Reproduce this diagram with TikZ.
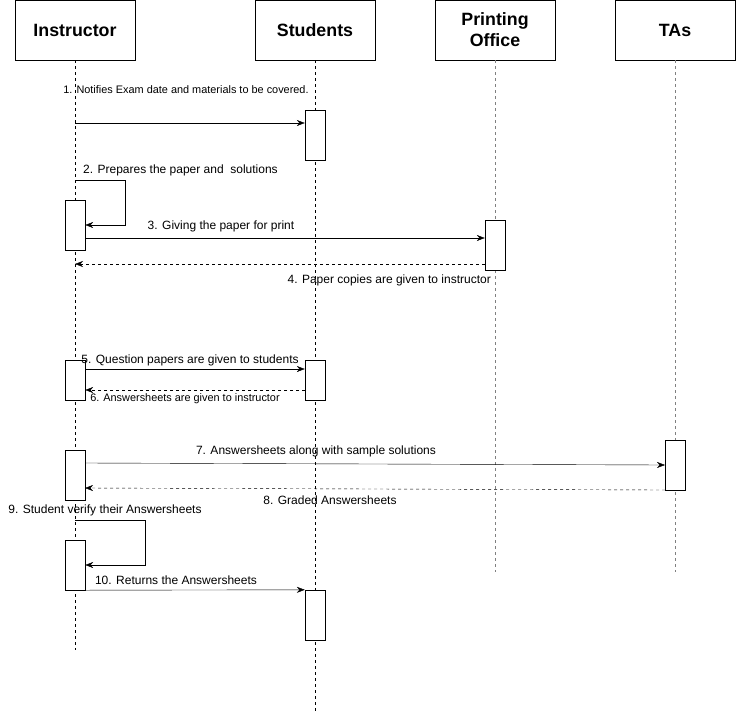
\documentclass[tikz,border=0pt]{standalone}
\usepackage{fontspec}
\setmainfont{Liberation Sans}
\usepackage{tikz}
\usetikzlibrary{arrows.meta,positioning,calc}

\begin{document}
\begin{tikzpicture}[x=1pt, y=-1pt,
    actor/.style={rectangle, draw, minimum width=120pt, minimum height=60pt, align=center, inner sep=0pt, font=\fontsize{17.8}{21}\selectfont\bfseries},
    act/.style={rectangle, draw, fill=white, minimum width=20pt, inner sep=0pt},
    life/.style={dash pattern=on 3pt off 3pt, thin},
    lifegray/.style={dash pattern=on 3pt off 3pt, draw=black!50, line width=0.9pt},
    msg/.style={-{Stealth[length=8pt, width=6pt]}},
    reply/.style={msg, dash pattern=on 3pt off 3pt},
    lbl/.style={font=\fontsize{12}{14}\selectfont, inner sep=1pt},
    slbl/.style={font=\fontsize{10.9}{13}\selectfont, inner sep=1pt}
]
    \useasboundingbox (0,0) rectangle (736,712);

    % Participants
    \node[actor] (instr) at (75,30) {Instructor};
    \node[actor] (stud) at (315,30) {Students};
    \node[actor] (print) at (495,30) {Printing\\Office};
    \node[actor] (tas) at (675,30) {TAs};

    % Lifelines
    \coordinate (instr-end) at (75,650);
    \coordinate (stud-end) at (315,712);
    \coordinate (print-end) at (495,572);
    \coordinate (tas-end) at (675,572);
    \draw[life] (instr) -- (instr-end);
    \draw[life] (stud) -- (stud-end);
    \draw[lifegray] (print) -- (print-end);
    \draw[lifegray] (tas) -- (tas-end);

    % Activations
    \node[act, minimum height=50pt] (s1) at (315,135) {};
    \node[act, minimum height=50pt] (i2) at (75,225) {};
    \node[act, minimum height=50pt] (p3) at (495,245) {};
    \node[act, minimum height=40pt] (i5) at (75,380) {};
    \node[act, minimum height=40pt] (s5) at (315,380) {};
    \node[act, minimum height=50pt] (i7) at (75,475) {};
    \node[act, minimum height=50pt] (t7) at (675,465) {};
    \node[act, minimum height=50pt] (i9) at (75,565) {};
    \node[act, minimum height=50pt] (s10) at (315,615) {};

    % Messages
    \coordinate (m1) at (75,123);
    \draw[msg] (m1) -- (s1.west |- m1);
    \node[slbl] (t1) at (186,90) {1. Notifies Exam date and materials to be covered.};

    \coordinate (m2) at (75,180);
    \draw[msg] (m2) -- ++(50,0) |- (i2.east);
    \node[lbl, anchor=west] (t2) at (82,170) {2. Prepares the paper and\ \ solutions};

    \coordinate (m3) at (85,238);
    \draw[msg] (m3) -- (p3.west |- m3);
    \node[lbl] (t3) at (221,226) {3. Giving the paper for print};

    \coordinate (m4) at (75,264);
    \draw[reply] (p3.west |- m4) -- (m4);
    \node[lbl, anchor=east] (t4) at (492,280) {4. Paper copies are given to instructor};

    \coordinate (m5) at (85,369);
    \draw[msg] (m5) -- (s5.west |- m5);
    \node[lbl] (t5) at (190,360) {5. Question papers are given to students};

    \coordinate (m6) at (305,390);
    \draw[reply] (m6) -- (i5.east |- m6);
    \node[slbl] (t6) at (185,399) {6. Answersheets are given to instructor};

    \coordinate (m7a) at (85,463);
    \coordinate (m7b) at (665,465);
    \draw[msg] (m7a) -- (m7b);
    \node[lbl] (t7) at (316,451) {7. Answersheets along with sample solutions};

    \coordinate (m8a) at (665,490);
    \coordinate (m8b) at (85,488);
    \draw[reply] (m8a) -- (m8b);
    \node[lbl] (t8) at (330,500) {8. Graded Answersheets};

    \coordinate (m9) at (75,520);
    \draw[msg] (m9) -- ++(70,0) |- (i9.east);
    \node[lbl] (t9) at (105,510) {9. Student verify their Answersheets};

    \draw[msg] (i9.south east) -- (s10.north west);
    \node[lbl] (t10) at (176,580) {10. Returns the Answersheets};
\end{tikzpicture}
\end{document}
